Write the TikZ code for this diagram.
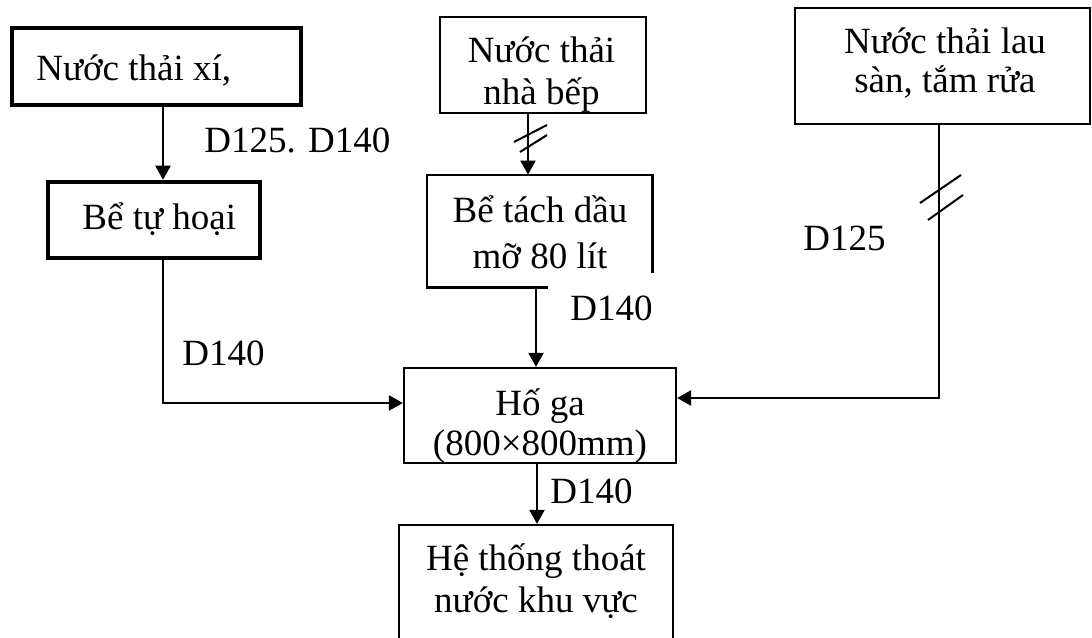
\documentclass[tikz,border=0pt]{standalone}
\usepackage{fontspec}
\setmainfont{Liberation Serif}
\usetikzlibrary{arrows.meta}

\begin{document}
\begin{tikzpicture}[x=0.5pt, y=-0.5pt,
  box/.style={draw, line width=1.1pt, rectangle, inner sep=0pt},
  thickbox/.style={draw, line width=2.3pt, rectangle, inner sep=0pt},
  txt/.style={inner sep=0pt, anchor=base, align=flush center, text width=150pt,
    font=\fontsize{18.5}{21}\selectfont},
  lbl/.style={inner sep=0pt, anchor=base west, font=\fontsize{18.5}{21}\selectfont},
  arr/.style={line width=1.1pt, -{Triangle[length=7pt, width=7.5pt]}},
  slash/.style={line width=1pt}]

\useasboundingbox (0,0) rectangle (1092,637);
\clip (0,0) rectangle (1092,637);
\fill[white] (0,0) rectangle (1092,637);

% boxes
\node[thickbox, minimum width=144.5pt, minimum height=38.5pt] (xi) at (156.5,66.5) {};
\node[lbl] (xiT) at (36,80) {Nước thải xí,};

\node[thickbox, minimum width=106pt, minimum height=38pt] (tuhoai) at (154,220) {};
\node[lbl] (tuhoaiT) at (82,229) {Bể tự hoại};

\node[box, minimum width=103pt, minimum height=48pt] (bep) at (543,65) {};
\node[txt] (bepT) at (541.5,62) {Nước thải\\nhà bếp};

\node[rectangle, inner sep=0pt, minimum width=112.5pt, minimum height=56pt] (dau) at (539.5,231) {};
\draw[line width=1.1pt] ([xshift=60.5pt]dau.south west) -- (dau.south west)
  -- (dau.north west) -- (dau.north east) -- ([yshift=-49pt]dau.north east);
\node[txt, font=\fontsize{18.5}{23}\selectfont] (dauT) at (540,222) {Bể tách dầu\\mỡ 80 lít};

\node[box, minimum width=147.5pt, minimum height=58pt] (san) at (942.5,66) {};
\node[txt, font=\fontsize{18.5}{20}\selectfont] (sanT) at (945,53) {Nước thải lau\\sàn, tắm rửa};

\node[box, minimum width=136pt, minimum height=47.5pt] (hoga) at (540,415.5) {};
\node[txt, font=\fontsize{18.5}{20}\selectfont] (hogaT) at (540,415) {Hố ga\\(800×800mm)};

\node[box, minimum width=137pt, minimum height=67.5pt] (thoat) at (536,592.5) {};
\node[txt] (thoatT) at (536,570) {Hệ thống thoát\\nước khu vực};

% pipe runs
\coordinate (cA) at (163,0);
\coordinate (cB) at (528,0);
\coordinate (cC) at (536,0);
\coordinate (cD) at (939,0);
\coordinate (cE) at (537,0);
\coordinate (yL) at (0,403);
\coordinate (yR) at (0,398);

\draw[arr] (xi.south -| cA) -- (tuhoai.north -| cA);
\draw[arr] (tuhoai.south -| cA) |- (hoga.west |- yL);
\draw[arr] (bep.south -| cB) -- (dau.north -| cB);
\draw[arr] (dau.south -| cC) -- (hoga.north -| cC);
\draw[arr] (san.south -| cD) |- (hoga.east |- yR);
\draw[arr] (hoga.south -| cE) -- (thoat.north -| cE);

% double-slash marks on pipes
\draw[slash] (514,142) -- (547,125);
\draw[slash] (520,152) -- (547,135);
\draw[slash] (920,203) -- (961,175);
\draw[slash] (928,220) -- (963,195);

% pipe diameters
\node[lbl] (d1) at (204,152) {D125. D140};
\node[lbl] (d2) at (182,365) {D140};
\node[lbl] (d3) at (570,320) {D140};
\node[lbl] (d4) at (803,250) {D125};
\node[lbl] (d5) at (550,503) {D140};

\end{tikzpicture}
\end{document}
